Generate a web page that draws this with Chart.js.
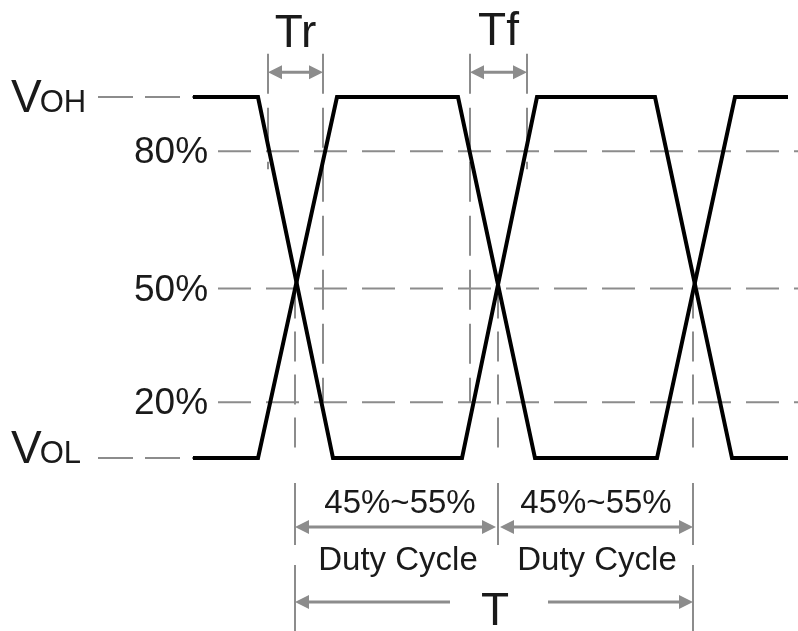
<!DOCTYPE html>
<html>
<head>
<meta charset="utf-8">
<script src="https://cdn.jsdelivr.net/npm/chart.js@4/dist/chart.umd.min.js"></script>
<style>
  html, body { margin: 0; padding: 0; background: #ffffff; }
  #wrap { width: 798px; height: 631px; }
</style>
</head>
<body>
<div id="wrap"><canvas id="c" width="798" height="631"></canvas></div>
<script>
// ---------- data (time units across, % of swing up) ----------
const waveAHighFirstT = [193, 258, 333, 462, 537, 655, 732, 788];
const waveAHighFirstV = [100, 100, 0, 0, 100, 100, 0, 0];
const waveBLowFirstT  = [193, 258, 337, 458, 535, 657, 735, 788];
const waveBLowFirstV  = [0, 0, 100, 100, 0, 0, 100, 100];

const railNames   = ['V', 'V'];
const railSubs    = ['OH', 'OL'];
const railValues  = [100, 0];

const levelLabels = ['80%', '50%', '20%'];
const levelValues = [85, 47, 15.5];

const crossTimes  = [295, 498, 693];      // 50% crossings
const trSpan      = [268, 323];           // rise time markers
const tfSpan      = [470, 527];           // fall time markers
const dutyLabel   = '45%~55%';
const dutyName    = 'Duty Cycle';
const periodName  = 'T';

// ---------- scale ranges ----------
const T_MIN = 0, T_MAX = 798;
const V_MIN = -47.9, V_MAX = 126.9;

const GRAY = '#8c8c8c';
const INK = '#1a1a1a';
const FONT = '"Liberation Sans", Arial, sans-serif';

function pts(ts, vs) { return ts.map((t, i) => ({ x: t, y: vs[i] })); }

function guide(points, dash, width) {
  return {
    data: points, borderColor: GRAY, borderWidth: width || 2,
    borderDash: dash || [], pointRadius: 0, tension: 0, order: 5,
    borderCapStyle: 'butt', fill: false
  };
}

const datasets = [];
// waveforms (on top)
[[waveAHighFirstT, waveAHighFirstV], [waveBLowFirstT, waveBLowFirstV]].forEach(([t, v]) => {
  datasets.push({
    data: pts(t, v), borderColor: '#000', borderWidth: 4, pointRadius: 0,
    tension: 0, order: 0, borderJoinStyle: 'miter', borderCapStyle: 'butt', fill: false
  });
});
// rail dashed leaders (VOH / VOL)
railValues.forEach(v => datasets.push(guide([{ x: 98, y: v }, { x: waveAHighFirstT[0], y: v }], [35, 12])));
// level dashed lines
levelValues.forEach(v => datasets.push(guide([{ x: 218, y: v }, { x: T_MAX, y: v }], [33, 15])));
// Tr / Tf vertical markers: one reaches the 20% level, the other stops below 80%
const markTop = 112;
datasets.push(guide([{ x: trSpan[0], y: markTop }, { x: trSpan[0], y: levelValues[0] - 5 }], [40, 14]));
datasets.push(guide([{ x: trSpan[1], y: markTop }, { x: trSpan[1], y: levelValues[2] }], [40, 14]));
datasets.push(guide([{ x: tfSpan[0], y: markTop }, { x: tfSpan[0], y: levelValues[2] }], [40, 14]));
datasets.push(guide([{ x: tfSpan[1], y: markTop }, { x: tfSpan[1], y: levelValues[0] - 5 }], [40, 14]));
// crossing verticals: dashed through the waveform region, solid extension lines below
crossTimes.forEach((t, i) => {
  datasets.push(guide([{ x: t, y: levelValues[1] }, { x: t, y: -0.5 }], [30, 13]));
  datasets.push(guide([{ x: t, y: -6.9 }, { x: t, y: -24.1 }], []));
  if (i !== 1) datasets.push(guide([{ x: t, y: -29.6 }, { x: t, y: V_MIN }], []));
});

// ---------- annotation plugin ----------
const annot = {
  id: 'annot',
  afterDatasetsDraw(chart) {
    const { ctx, scales: { x, y } } = chart;
    const px = v => x.getPixelForValue(v);
    const py = v => y.getPixelForValue(v);
    ctx.save();

    function head(xp, yp, dir) {
      const L = 14, W = 7;
      ctx.beginPath();
      ctx.moveTo(xp, yp);
      ctx.lineTo(xp + dir * L, yp - W);
      ctx.lineTo(xp + dir * L, yp + W);
      ctx.closePath();
      ctx.fill();
    }
    function arrow(t1, t2, v, h1, h2) {
      const x1 = px(t1), x2 = px(t2), yp = py(v);
      ctx.strokeStyle = GRAY; ctx.fillStyle = GRAY; ctx.lineWidth = 3;
      ctx.beginPath();
      ctx.moveTo(x1 + (h1 ? 6 : 0), yp);
      ctx.lineTo(x2 - (h2 ? 6 : 0), yp);
      ctx.stroke();
      if (h1) head(x1, yp, 1);
      if (h2) head(x2, yp, -1);
    }
    arrow(trSpan[0], trSpan[1], 106.9, true, true);
    arrow(tfSpan[0], tfSpan[1], 106.9, true, true);
    arrow(crossTimes[0], crossTimes[1] - 2, -19.1, true, true);
    arrow(crossTimes[1] + 2, crossTimes[2], -19.1, true, true);
    arrow(crossTimes[0], 450, -39.9, true, false);
    arrow(548, crossTimes[2], -39.9, false, true);

    ctx.fillStyle = INK;
    // rail labels: V with small-cap subscript
    railValues.forEach((v, i) => {
      const base = py(v) + (i === 0 ? 15 : 5);
      ctx.textAlign = 'left'; ctx.textBaseline = 'alphabetic';
      ctx.font = '46px ' + FONT;
      ctx.fillText(railNames[i], px(11), base);
      const w = ctx.measureText(railNames[i]).width;
      ctx.font = '31px ' + FONT;
      ctx.fillText(railSubs[i], px(11) + w - 2, base);
    });
    // level labels
    ctx.font = '37px ' + FONT;
    ctx.textAlign = 'left'; ctx.textBaseline = 'middle';
    levelValues.forEach((v, i) => ctx.fillText(levelLabels[i], px(134), py(v) + 2));

    // Tr / Tf
    ctx.textAlign = 'center'; ctx.textBaseline = 'alphabetic';
    ctx.font = '46px ' + FONT;
    ctx.fillText('Tr', px((trSpan[0] + trSpan[1]) / 2), py(113.9));
    ctx.fillText('Tf', px((tfSpan[0] + tfSpan[1]) / 2), py(114.4));
    ctx.fillText(periodName, px(495), py(-46.3));

    // duty cycle labels
    ctx.font = '33px ' + FONT;
    [[400, 398], [596, 597]].forEach(([c1, c2]) => {
      ctx.fillText(dutyLabel, px(c1), py(-15.2));
      ctx.fillText(dutyName, px(c2), py(-31.0));
    });
    ctx.restore();
  }
};

new Chart(document.getElementById('c'), {
  type: 'line',
  data: { datasets },
  options: {
    responsive: false,
    devicePixelRatio: 1,
    animation: false,
    layout: { padding: 0 },
    plugins: { legend: { display: false }, tooltip: { enabled: false } },
    scales: {
      x: { type: 'linear', min: T_MIN, max: T_MAX, display: false },
      y: { type: 'linear', min: V_MIN, max: V_MAX, display: false }
    }
  },
  plugins: [annot]
});
</script>
</body>
</html>
